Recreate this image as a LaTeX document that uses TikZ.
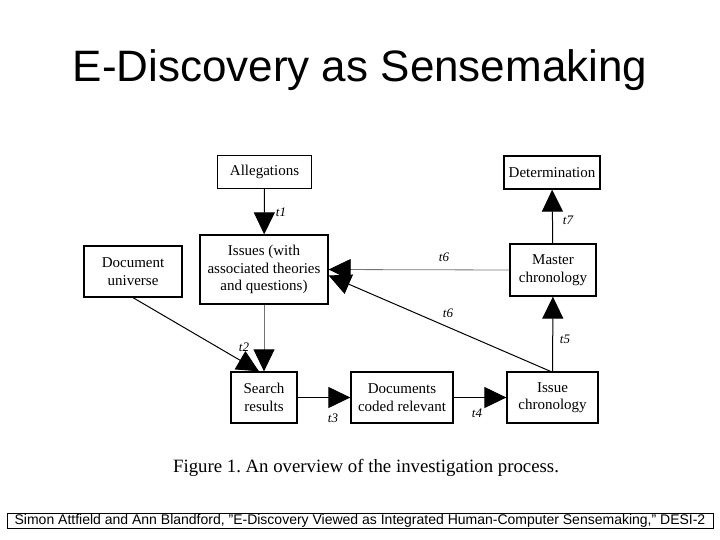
\documentclass[tikz,border=0pt]{standalone}
\usepackage{fontspec}
\setmainfont{Liberation Serif}
\setsansfont{Liberation Sans}
\usetikzlibrary{arrows.meta, positioning}
\frenchspacing

\begin{document}
\begin{tikzpicture}[x=1pt, y=-1pt, line join=miter]
        \tikzset{stage/.style={draw, line width=1.3pt, align=center, inner sep=0pt,
                               font=\fontsize{15}{17.5}\selectfont}}
        \tikzset{flow/.style={-{Triangle[length=22pt, width=21pt, color=black]}, line width=1pt}}
        \tikzset{faint/.style={flow, draw=black!55, line width=0.8pt}}
        \tikzset{tlab/.style={font=\fontsize{13}{14}\selectfont\itshape}}
        \useasboundingbox (0,0) rectangle (720,540);
        % title
        \node[font=\sffamily\fontsize{44}{50}\selectfont] (title) at (360,70) {E-Discovery as Sensemaking};
        % boxes
        \node[stage, minimum width=94pt, minimum height=33pt] (alleg) at (264.5,172) {Allegations};
        \node[stage, minimum width=96pt, minimum height=33pt] (determ) at (552,172.5) {Determination};
        \node[stage, minimum width=98pt, minimum height=51pt] (docuni) at (133,271.5) {Document\\universe};
        \node[stage, minimum width=128pt, minimum height=69pt] (issues) at (264,269.5) {Issues (with\\associated theories\\and questions)};
        \node[stage, minimum width=86pt, minimum height=52pt] (master) at (553,270) {Master\\chronology};
        \node[stage, minimum width=66pt, minimum height=51pt] (search) at (264,397.5) {Search\\results};
        \node[stage, minimum width=102pt, minimum height=51pt] (coded) at (402,397.5) {Documents\\coded relevant};
        \node[stage, minimum width=91pt, minimum height=51pt] (issuechr) at (552.5,397.5) {Issue\\chronology};
        % connectors
        \draw[flow] (alleg) -- (issues);
        \draw[flow] (master) -- (determ);
        \draw[faint] (master.west) -- (issues.east);
        \draw[flow] ([xshift=-2pt]issuechr.north) -- ([yshift=-6pt]issues.east);
        \draw[flow] (issuechr) -- (master);
        \draw[flow] (docuni.south) -- ([xshift=-5pt]search.north);
        \draw[faint] (issues) -- (search);
        \draw[flow] (search) -- (coded);
        \draw[flow] (coded) -- (issuechr);
        % labels
        \node[tlab] (l1) at (281,212) {t1};
        \node[tlab] (l7) at (568,220) {t7};
        \node[tlab] (l6a) at (444,257) {t6};
        \node[tlab] (l6b) at (448,313) {t6};
        \node[tlab] (l5) at (565,339) {t5};
        \node[tlab] (l2) at (244,347) {t2};
        \node[tlab] (l3) at (333,418) {t3};
        \node[tlab] (l4) at (477,413) {t4};
        % caption and source
        \node[font=\fontsize{18.8}{21}\selectfont] (caption) at (366,468) {Figure 1. An overview of the investigation process.};
        \node[draw, line width=0.8pt, minimum width=706pt, minimum height=15pt, inner sep=0pt,
              font=\sffamily\fontsize{14}{14}\selectfont] (source) at (360,520.5)
              {Simon Attfield and Ann Blandford, "E-Discovery Viewed as Integrated Human-Computer Sensemaking," DESI-2};
\end{tikzpicture}
\end{document}
